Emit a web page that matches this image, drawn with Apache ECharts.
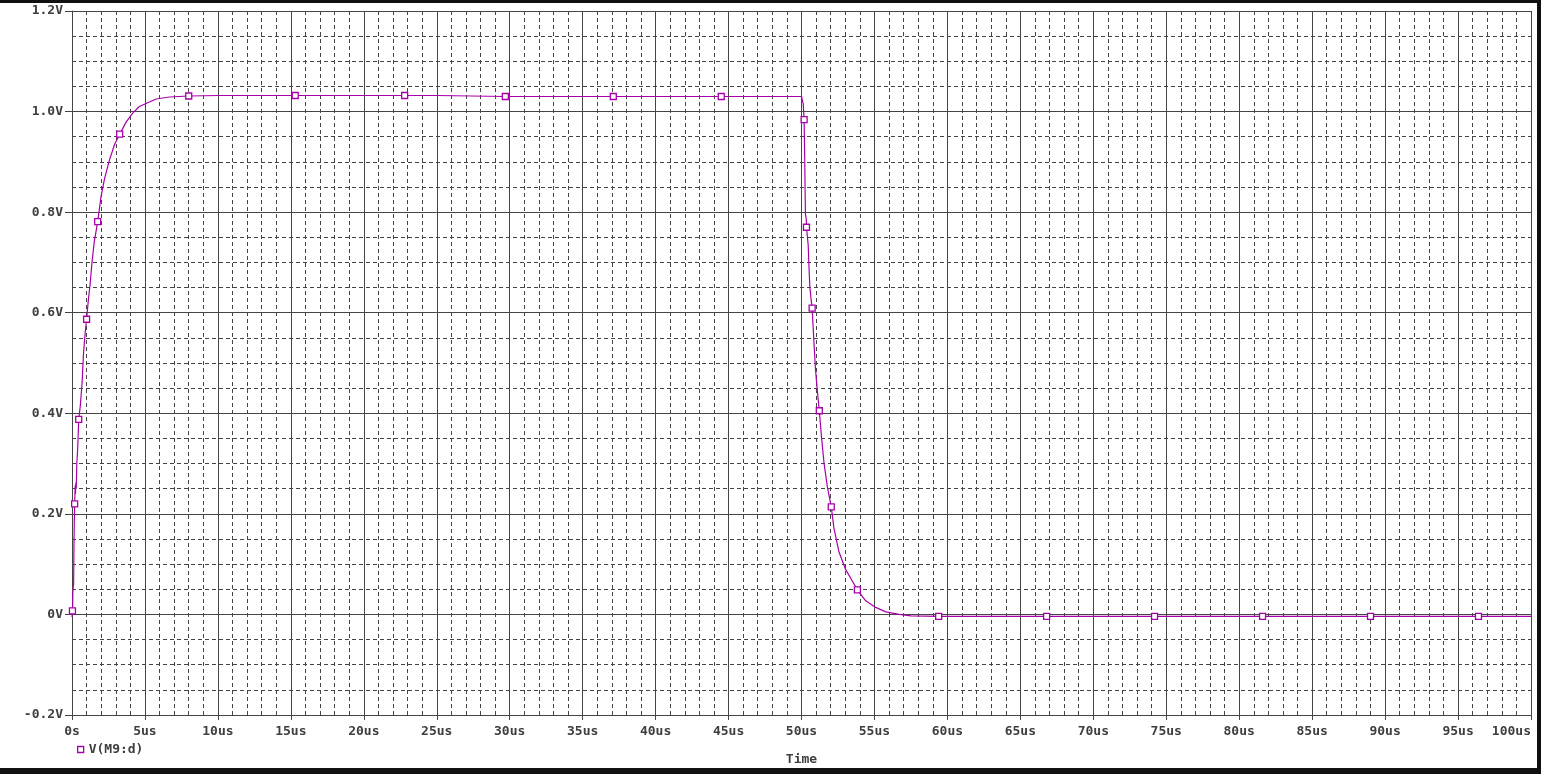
<!DOCTYPE html>
<html>
<head>
<meta charset="utf-8">
<script src="https://cdn.jsdelivr.net/npm/echarts@6/dist/echarts.min.js"></script>
<style>
html,body{margin:0;padding:0;background:#fff;}
#chart{width:1541px;height:774px;}
</style>
</head>
<body>
<div id="chart"></div>
<script>
// Waveform V(M9:d) : time (us) and voltage (V)
const timeUs = [0, 0.03, 0.05, 0.06, 0.11, 0.14, 0.18, 0.22, 0.24, 0.26, 0.29, 0.33, 0.39, 0.46, 0.57, 0.69, 0.78, 0.89, 1.0, 1.12, 1.24, 1.37, 1.53, 1.76, 1.99, 2.22, 2.56, 2.91, 3.27, 3.71, 4.16, 4.62, 5.08, 5.77, 6.68, 8.0, 10.1, 15.3, 22.8, 25.0, 25.1, 29.7, 37.1, 44.5, 50.0, 50.07, 50.12, 50.18, 50.22, 50.27, 50.30, 50.33, 50.34, 50.46, 50.51, 50.57, 50.64, 50.73, 50.85, 50.96, 51.08, 51.22, 51.38, 51.54, 51.77, 52.04, 52.22, 52.57, 53.03, 53.83, 54.40, 55.09, 55.78, 56.70, 57.5, 59.4, 66.8, 74.2, 81.6, 89.0, 96.4, 100];
const voltV = [-0.005, 0.007, 0.02, 0.048, 0.06, 0.15, 0.22, 0.257, 0.24, 0.262, 0.25, 0.30, 0.33, 0.388, 0.415, 0.46, 0.515, 0.556, 0.587, 0.625, 0.656, 0.70, 0.742, 0.781, 0.831, 0.865, 0.903, 0.934, 0.955, 0.979, 0.997, 1.01, 1.016, 1.025, 1.029, 1.031, 1.032, 1.032, 1.032, 1.032, 1.030, 1.030, 1.030, 1.030, 1.030, 1.030, 1.015, 0.984, 0.906, 0.796, 0.790, 0.785, 0.770, 0.734, 0.693, 0.652, 0.631, 0.609, 0.542, 0.487, 0.446, 0.405, 0.350, 0.302, 0.254, 0.214, 0.172, 0.124, 0.089, 0.049, 0.027, 0.014, 0.005, 0.000, -0.003, -0.004, -0.004, -0.004, -0.004, -0.004, -0.004, -0.004];
// Plot symbols (square markers) along the trace
const markTimeUs = [0.03, 0.18, 0.46, 1.0, 1.76, 3.27, 8.0, 15.3, 22.8, 29.7, 37.1, 44.5, 50.18, 50.34, 50.73, 51.22, 52.04, 53.83, 59.4, 66.8, 74.2, 81.6, 89.0, 96.4];
const markVolt = [0.007, 0.22, 0.388, 0.587, 0.781, 0.955, 1.031, 1.032, 1.032, 1.030, 1.030, 1.030, 0.984, 0.770, 0.609, 0.405, 0.214, 0.049, -0.004, -0.004, -0.004, -0.004, -0.004, -0.004];
const seriesName = 'V(M9:d)';
const xAxisTitle = 'Time';

const traceColor = '#a800a8';
const gridColor = '#454545';
const textColor = '#3e3e3e';
const monoFont = 'DejaVu Sans Mono';

const lineData = timeUs.map((t, i) => [t, voltV[i]]);
const markData = markTimeUs.map((t, i) => [t, markVolt[i]]);

const chart = echarts.init(document.getElementById('chart'), null, {renderer: 'canvas'});
chart.setOption({
  animation: false,
  backgroundColor: '#ffffff',
  grid: {left: 72, right: 10, top: 11, bottom: 59, containLabel: false},
  legend: {
    data: [{name: seriesName, icon: 'rect'}],
    left: 72, top: 738,
    itemWidth: 6, itemHeight: 6, itemGap: 6,
    textStyle: {color: textColor, fontFamily: monoFont, fontWeight: 'bold', fontSize: 13},
    itemStyle: {color: '#ffffff', borderColor: traceColor, borderWidth: 1.3}
  },
  xAxis: {
    type: 'value', min: 0, max: 100, interval: 5,
    name: xAxisTitle, nameLocation: 'middle', nameGap: 38,
    nameTextStyle: {color: textColor, fontFamily: monoFont, fontWeight: 'bold', fontSize: 13},
    axisLine: {show: true, onZero: false, lineStyle: {color: gridColor, width: 1}},
    axisTick: {show: true, length: 5, lineStyle: {color: gridColor}},
    axisLabel: {
      color: textColor, fontFamily: monoFont, fontWeight: 'bold', fontSize: 13, margin: 10,
      alignMaxLabel: 'right',
      formatter: v => v === 0 ? '0s' : v + 'us'
    },
    splitLine: {show: true, lineStyle: {color: gridColor, width: 1}},
    minorTick: {show: false, splitNumber: 5},
    minorSplitLine: {show: true, lineStyle: {color: gridColor, width: 1, type: [4, 3]}}
  },
  yAxis: {
    type: 'value', min: -0.2, max: 1.2, interval: 0.2,
    axisLine: {show: true, onZero: false, lineStyle: {color: gridColor, width: 1}},
    axisTick: {show: true, length: 7, lineStyle: {color: gridColor}},
    axisLabel: {
      color: textColor, fontFamily: monoFont, fontWeight: 'bold', fontSize: 13, margin: 9,
      formatter: v => Math.abs(v) < 1e-9 ? '0V' : v.toFixed(1) + 'V'
    },
    splitLine: {show: true, lineStyle: {color: gridColor, width: 1}},
    minorTick: {show: false, splitNumber: 4},
    minorSplitLine: {show: true, lineStyle: {color: gridColor, width: 1, type: [4, 3]}}
  },
  series: [
    {
      name: seriesName, type: 'line', data: lineData,
      showSymbol: false, symbol: 'none',
      lineStyle: {color: traceColor, width: 1.2},
      itemStyle: {color: traceColor},
      z: 3
    },
    {
      name: seriesName, type: 'scatter', data: markData,
      symbol: 'rect', symbolSize: 6,
      itemStyle: {color: '#ffffff', borderColor: traceColor, borderWidth: 1.3, opacity: 1},
      z: 4
    }
  ],
  graphic: [
    {type: 'rect', left: 0, top: 0, shape: {width: 1541, height: 3}, style: {fill: '#111111'}, silent: true},
    {type: 'rect', left: 0, top: 768, shape: {width: 1541, height: 6}, style: {fill: '#111111'}, silent: true},
    {type: 'rect', left: 1537, top: 0, shape: {width: 4, height: 774}, style: {fill: '#111111'}, silent: true}
  ]
});
</script>
</body>
</html>
